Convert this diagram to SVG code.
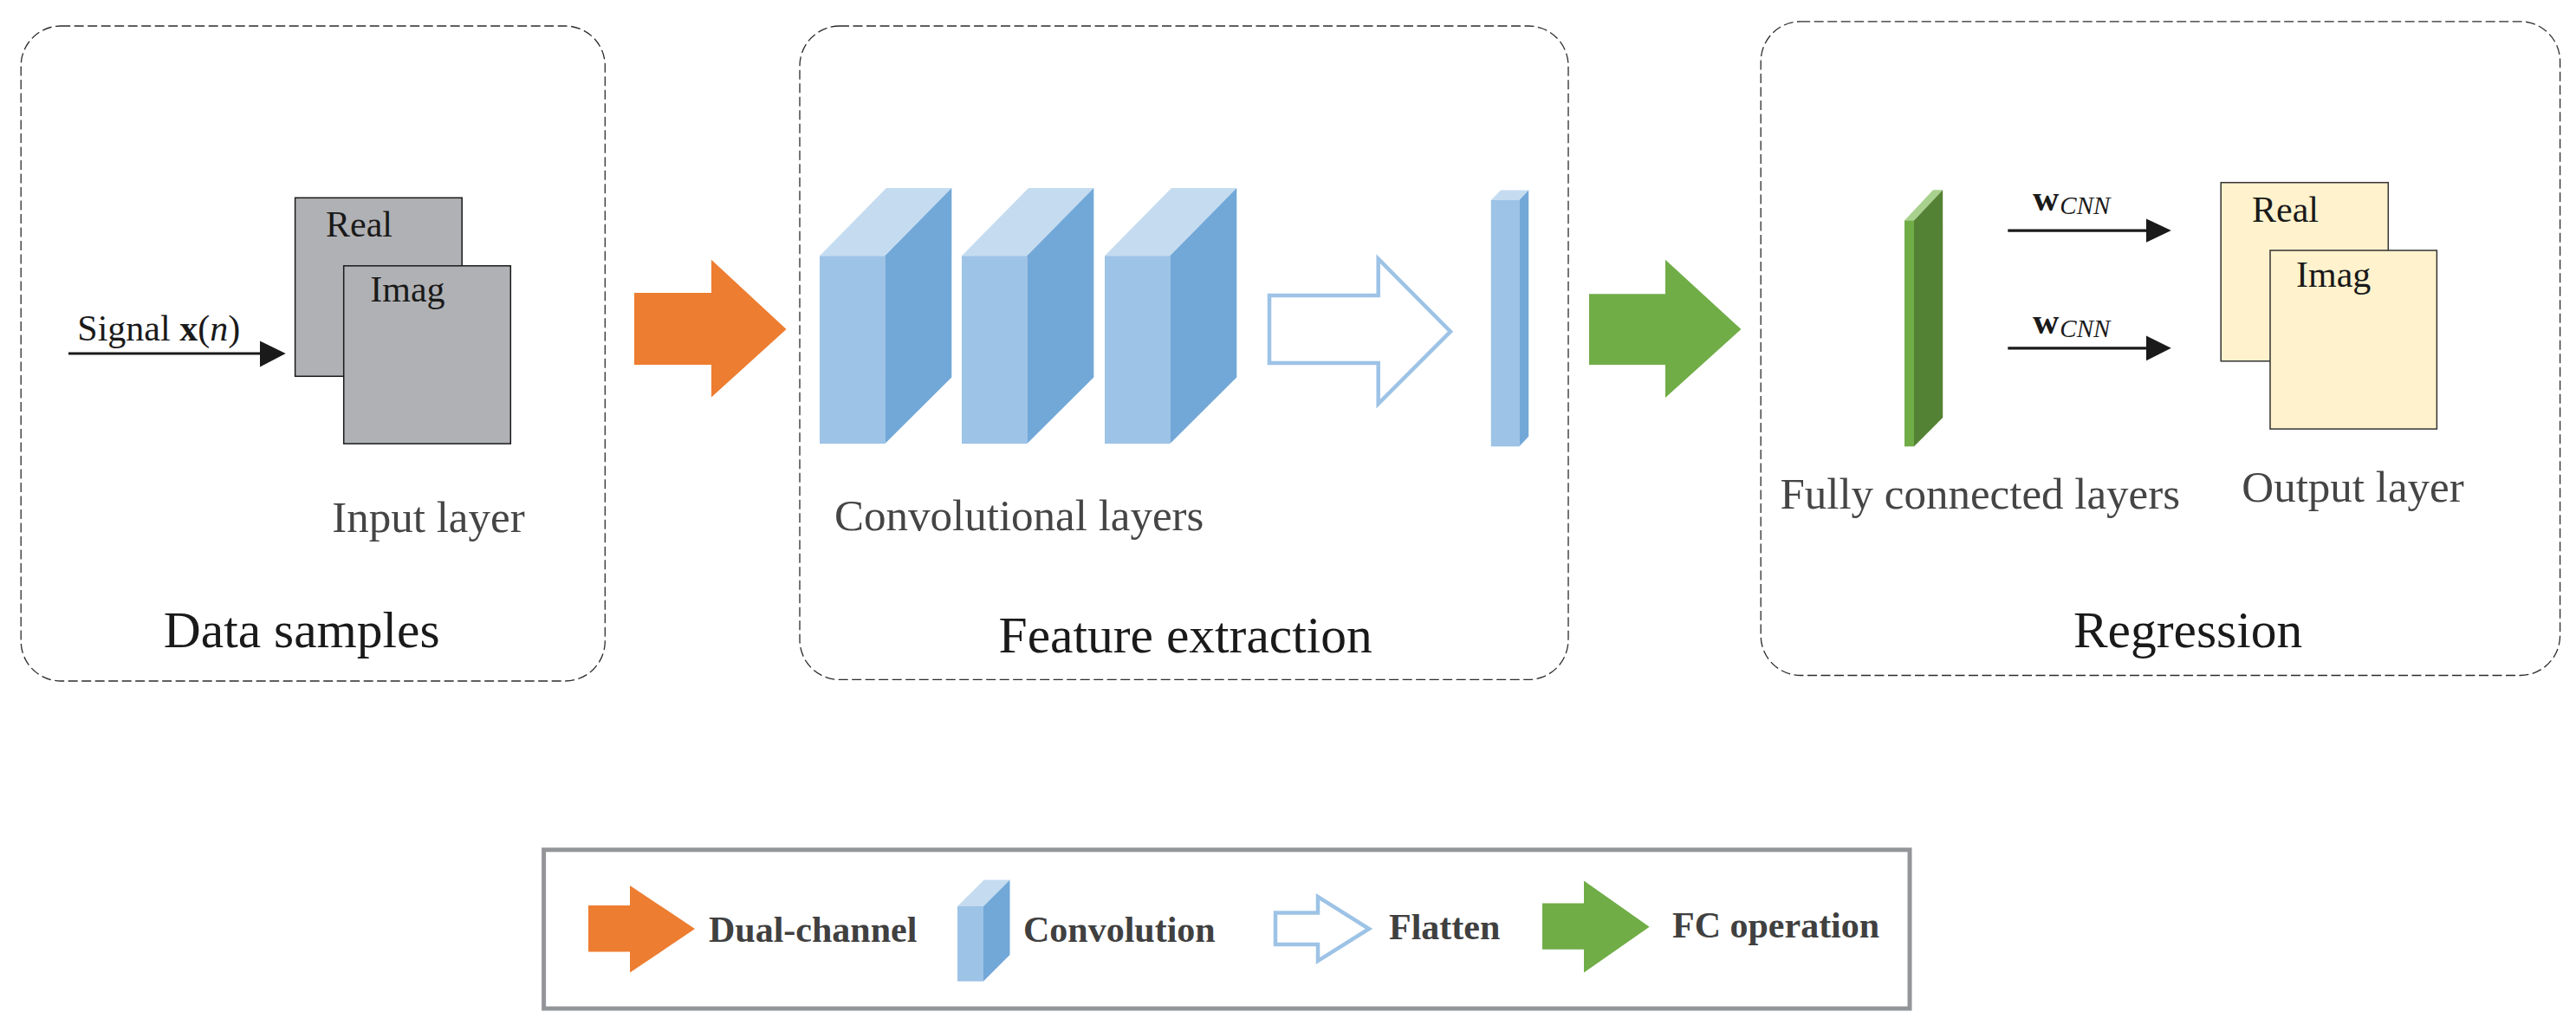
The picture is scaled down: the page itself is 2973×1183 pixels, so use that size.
<svg xmlns="http://www.w3.org/2000/svg" width="2973" height="1183" viewBox="0 0 2973 1183">
<defs>
<style>
.panel{fill:none;stroke:#2b2b2b;stroke-width:1.3;stroke-dasharray:11 4.5}
.t{font-family:"Liberation Serif","Times New Roman",serif}
.lbl{font-size:51px;fill:#454545}
.ttl{font-size:59.5px;fill:#1a1a1a}
.small{font-size:42px;fill:#1a1a1a}
.leg{font-size:42px;font-weight:bold;fill:#404040}
.gray{fill:#b0b1b4;stroke:#1a1a1a;stroke-width:1.5}
.yel{fill:#fff2cc;stroke:#333;stroke-width:1.5}
.cf{fill:#9dc3e6}
.cs{fill:#72a8d8}
.ct{fill:#c5dcf0}
.orange{fill:#ed7d31}
.green{fill:#70ad47}
.flat{fill:#fff;stroke:#9dc3e6;stroke-width:4.5;stroke-linejoin:miter}
.line{stroke:#1a1a1a;stroke-width:3.2;fill:none}
.head{fill:#1a1a1a}
</style>
<g id="cube">
<polygon class="ct" points="0,0 77,-78.4 152.3,-78.4 75.3,0"/>
<polygon class="cs" points="75.3,0 152.3,-78.4 152.3,140.3 75.3,216.8"/>
<rect class="cf" x="0" y="0" width="75.3" height="216.8"/>
</g>
</defs>
<rect width="2973" height="1183" fill="#fff"/>

<g id="panels">
<rect class="panel" x="24.2" y="30" width="674.1" height="756" rx="46" ry="46"/>
<rect class="panel" x="923" y="30" width="887" height="754.4" rx="46" ry="46"/>
<rect class="panel" x="2032.2" y="24.8" width="922.4" height="754.7" rx="46" ry="46"/>
</g>

<g id="input-layer">
<rect class="gray" x="340.6" y="228.3" width="192.6" height="206"/>
<text class="t small" x="376" y="273">Real</text>
<rect class="gray" x="396.7" y="306.8" width="192.6" height="205.3"/>
<text class="t small" x="427.3" y="348">Imag</text>
<text class="t lbl" x="383.3" y="613.5">Input layer</text>
</g>

<g id="signal-label">
<text class="t small" x="89.3" y="393">Signal <tspan font-weight="bold">x</tspan>(<tspan font-style="italic">n</tspan>)</text>
</g>

<g id="title-data"><text class="t ttl" x="188.8" y="747.4">Data samples</text></g>

<g id="conv-layers">
<use href="#cube" x="946" y="295.3"/>
<use href="#cube" x="1110" y="295.3"/>
<use href="#cube" x="1275" y="295.3"/>
<text class="t lbl" x="963.1" y="612.2">Convolutional layers</text>
</g>

<g id="flatten-arrow">
<polygon class="flat" points="1465,341 1590.7,341 1590.7,298.6 1674,382.7 1590.7,466 1590.7,419 1465,419"/>
</g>

<g id="flat-vector">
<polygon class="ct" points="1720.8,231 1732,219.4 1764.2,219.4 1753.3,231"/>
<polygon class="cs" points="1753.3,231 1764.2,219.4 1764.2,503.8 1753.3,515.3"/>
<rect class="cf" x="1720.8" y="231" width="32.5" height="284.3"/>
</g>

<g id="title-feature"><text class="t ttl" x="1152.6" y="752.6">Feature extraction</text></g>

<g id="fc-layer">
<polygon fill="#a9d18e" points="2198,254.4 2231,219.2 2242.2,219.2 2209,254.4"/>
<polygon fill="#548235" points="2209,254.4 2242.2,219.2 2242.2,482 2209,515.3"/>
<rect class="green" x="2198" y="254.4" width="11" height="260.9"/>
<text class="t lbl" x="2054.4" y="587">Fully connected layers</text>
</g>

<g id="output-layer">
<rect class="yel" x="2563.2" y="210.7" width="193.1" height="206.1"/>
<text class="t small" x="2599" y="256.4">Real</text>
<rect class="yel" x="2620" y="289" width="192.4" height="206.1"/>
<text class="t small" x="2650" y="331.4">Imag</text>
<text class="t lbl" x="2587.3" y="579.3">Output layer</text>
</g>

<g id="weight-labels">
<text class="t" x="2346" y="242.7" font-size="42" font-weight="bold" fill="#1a1a1a">w<tspan font-size="29" font-weight="normal" font-style="italic" dx="1" dy="4.5">CNN</tspan></text>
<text class="t" x="2346" y="384.9" font-size="42" font-weight="bold" fill="#1a1a1a">w<tspan font-size="29" font-weight="normal" font-style="italic" dx="1" dy="4.5">CNN</tspan></text>
</g>

<g id="title-regression"><text class="t ttl" x="2392.9" y="747">Regression</text></g>

<g id="connectors">
<line class="line" x1="79" y1="408" x2="302" y2="408"/>
<polygon class="head" points="300,393.5 329.7,408 300,423.5"/>
<polygon class="orange" points="732,338 821,338 821,299.7 907.5,380 821,458.5 821,421 732,421"/>
<polygon class="green" points="1834,339.3 1922,339.3 1922,299.7 2009.4,380 1922,459 1922,421 1834,421"/>
<line class="line" x1="2317.3" y1="266.1" x2="2479" y2="266.1"/>
<polygon class="head" points="2477,252.4 2505.8,266.1 2477,279.8"/>
<line class="line" x1="2317.3" y1="401.8" x2="2479" y2="401.8"/>
<polygon class="head" points="2477,387.5 2505.8,401.8 2477,416.2"/>
</g>

<g id="legend">
<rect x="627.6" y="980.8" width="1576.4" height="183.2" fill="#fff" stroke="#939598" stroke-width="5"/>
<polygon class="orange" points="679,1045 727,1045 727,1022 802,1072 727,1122.6 727,1098.5 679,1098.5"/>
<text class="t leg" x="818" y="1086.6">Dual-channel</text>
<polygon class="ct" points="1105,1046 1135.6,1015.5 1165.5,1015.5 1135,1046"/>
<polygon class="cs" points="1135,1046 1165.5,1015.5 1165.5,1102 1135,1132.6"/>
<rect class="cf" x="1105" y="1046" width="30" height="86.6"/>
<text class="t leg" x="1181" y="1087.4">Convolution</text>
<polygon class="flat" points="1472,1053.5 1521,1053.5 1521,1035 1580,1072 1521,1109 1521,1090 1472,1090"/>
<text class="t leg" x="1603" y="1084.3">Flatten</text>
<polygon class="green" points="1780,1042.6 1828,1042.6 1828,1016.6 1903.6,1069.8 1828,1122.6 1828,1095.8 1780,1095.8"/>
<text class="t leg" x="1930" y="1082.4">FC operation</text>
</g>
</svg>
